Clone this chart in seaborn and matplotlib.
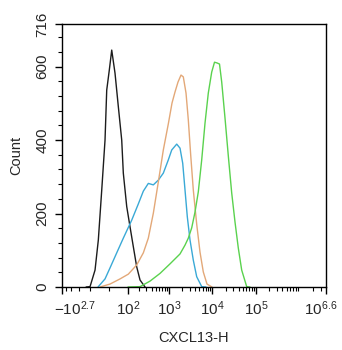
import numpy as np
import pandas as pd
import matplotlib
matplotlib.use("Agg")
import matplotlib.pyplot as plt
import seaborn as sns
from matplotlib.transforms import ScaledTranslation

# ---------------- data ----------------
black_x = [-129, -99.4, -68, -50, -33, -17.6, -9.9, 1.8, 12.6, 27.8, 43.9, 61.8,
           70.9, 92, 115.3, 142, 174, 211, 279]
black_y = [0, 1, 46, 128, 264, 400, 536, 591, 645, 582, 491, 400,
           310, 219, 164, 110, 55, 19, 0]

blue_x = [-51.6, -17.6, 4.9, 36, 70.9, 128.6, 191, 254, 334, 438, 572, 746,
          972, 1164, 1516, 1804, 2080, 2349, 2652, 3058, 3639, 4352, 5666, 7110]
blue_y = [0, 22, 52, 93, 133, 182, 226, 261, 282, 278, 291, 310,
          346, 373, 389, 378, 337, 264, 191, 128, 73, 28, 1, 0]

orange_x = [-41.4, 4.9, 52.6, 102.9, 174, 254, 334, 438, 572, 746, 972, 1183,
            1386, 1623, 1903, 2147, 2477, 2795, 3172, 3639, 4352, 5180, 6163,
            7493, 9752]
orange_y = [0, 8, 22, 35, 60, 93, 133, 201, 286, 373, 444, 501,
            531, 558, 577, 572, 528, 455, 359, 264, 171, 95, 41, 8, 0]

green_x = [100.8, 211, 366, 626, 1064, 1804, 2349, 2795, 3344, 3980, 4736, 5666,
           6745, 8024, 9600, 11127, 12695, 14487, 16270, 19363, 23044, 27566,
           32804, 39040, 46697, 60792, 72335]
green_y = [0, 1, 16, 37, 63, 90, 114, 133, 161, 204, 259, 346,
           446, 528, 585, 612, 610, 607, 558, 460, 357, 256, 177, 106, 46, 1, 0]

x_tick_values = [-10 ** 2.7, 1e2, 1e3, 1e4, 1e5, 10 ** 6.6]
x_tick_labels = [r"$-10^{2.7}$", r"$10^{2}$", r"$10^{3}$", r"$10^{4}$", r"$10^{5}$", r"$10^{6.6}$"]
y_tick_values = [0, 200, 400, 600, 716]
y_tick_labels = ["0", "200", "400", "600", "716"]

frames = []
for name, xs, ys in [("control", black_x, black_y), ("blue", blue_x, blue_y),
                     ("orange", orange_x, orange_y), ("green", green_x, green_y)]:
    frames.append(pd.DataFrame({"CXCL13-H": xs, "Count": ys, "sample": name}))
df = pd.concat(frames, ignore_index=True)

palette = {"control": "#1c1c1c", "blue": "#3aa9d6", "orange": "#e3a878", "green": "#5ad24e"}

# ---------------- biexponential-like scale ----------------
C = 85.0
def fwd(v):
    return np.arcsinh(np.asarray(v, dtype=float) / C) / np.log(10) + np.log10(C / 2)
def inv(t):
    return C * np.sinh((np.asarray(t, dtype=float) - np.log10(C / 2)) * np.log(10))

sns.set_style("ticks")
plt.rcParams["font.family"] = ["Liberation Sans", "DejaVu Sans"]
plt.rcParams["mathtext.fontset"] = "custom"
plt.rcParams["mathtext.rm"] = "Liberation Sans"
plt.rcParams["mathtext.it"] = "Liberation Sans:italic"
plt.rcParams["mathtext.bf"] = "Liberation Sans:bold"

fig = plt.figure(figsize=(3.42, 3.50), dpi=100)
ax = fig.add_axes([62 / 342, 1 - 287 / 350, 264 / 342, 263 / 350])
ax.set_xscale("function", functions=(fwd, inv))

sns.lineplot(data=df, x="CXCL13-H", y="Count", hue="sample", palette=palette,
             estimator=None, sort=False, linewidth=1.0, legend=False, ax=ax)

ax.set_xlim(-10 ** 2.7, 10 ** 6.6)
ax.set_ylim(0, 716)

ax.set_xticks(x_tick_values)
ax.set_xticklabels(x_tick_labels, fontsize=11)
minor_x = [-400, -300, -200, -100, 0]
for d in range(2, 7):
    for m in range(2, 10):
        v = m * 10 ** d
        if v < 10 ** 6.6:
            minor_x.append(v)
ax.set_xticks(minor_x, minor=True)

ax.set_yticks(y_tick_values)
ax.set_yticklabels(y_tick_labels, fontsize=11, rotation=90, va="center")
ax.set_yticks([v for v in range(40, 716, 40) if v % 200 != 0], minor=True)

ax.tick_params(axis="both", which="major", length=5, width=1, color="black", pad=4)
ax.tick_params(axis="both", which="minor", length=3, width=0.8, color="black")

for sp in ax.spines.values():
    sp.set_visible(True)
    sp.set_color("black")
    sp.set_linewidth(1.0)

labs = ax.get_xticklabels()
labs[0].set_transform(labs[0].get_transform() + ScaledTranslation(13 / 100, 0, fig.dpi_scale_trans))
labs[-1].set_transform(labs[-1].get_transform() + ScaledTranslation(-5 / 100, 0, fig.dpi_scale_trans))

ax.set_xlabel("CXCL13-H", fontsize=10.5)
ax.set_ylabel("Count", fontsize=10.5)
ax.xaxis.set_label_coords(0.5, -0.169)
ax.yaxis.set_label_coords(-0.148, 0.5)

fig.savefig("out.png", dpi=100)
